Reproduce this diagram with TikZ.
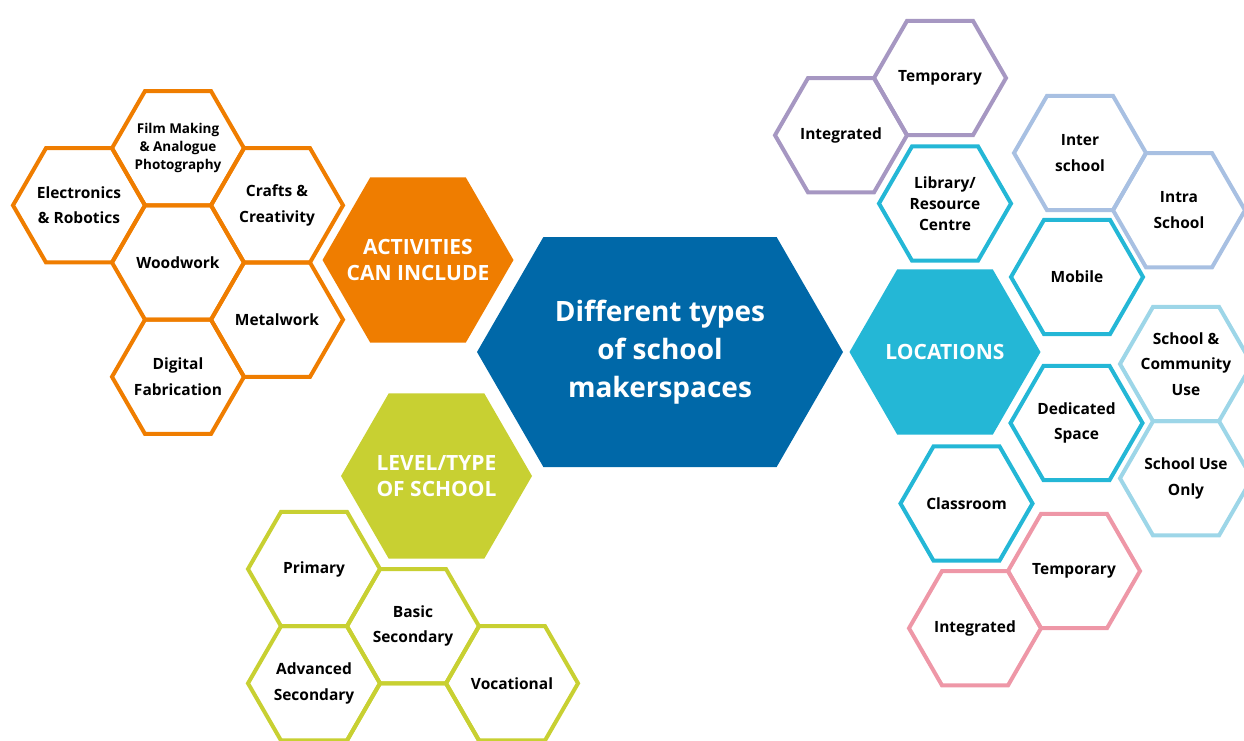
\documentclass[tikz,border=0pt]{standalone}
\usepackage{fontspec}
\setmainfont{Open Sans}
\usetikzlibrary{shapes.geometric,shapes.symbols}
\definecolor{actorange}{HTML}{EF7D00}
\definecolor{mainblue}{HTML}{0068A8}
\definecolor{loccyan}{HTML}{24B7D6}
\definecolor{levgreen}{HTML}{C8D032}
\definecolor{lilac}{HTML}{A697C2}
\definecolor{paleblue}{HTML}{A8C0E2}
\definecolor{skyblue}{HTML}{9DD6E8}
\definecolor{rosepink}{HTML}{EE97A7}
\tikzstyle{hex}=[regular polygon,regular polygon sides=6,minimum size=132pt,inner sep=-16pt,line width=4pt,align=center,font=\bfseries\fontsize{15.5}{25.5}\selectfont]
\tikzstyle{bighex}=[regular polygon,regular polygon sides=6,minimum size=191pt,inner sep=-16pt,text=white,align=center,font=\bfseries\fontsize{21}{26}\selectfont]

\begin{document}
\begin{tikzpicture}[x=1pt,y=-1pt]
\useasboundingbox (0,0) rectangle (1244,740);
\clip (0,0) rectangle (1244,740);

% centre
\node[signal,signal to=west and east,signal pointer angle=120,fill=mainblue,minimum width=366pt,minimum height=230pt,inner sep=0pt,text=white,align=center,font=\bfseries\fontsize{28}{38}\selectfont] (centre) at (660,352) {Different types\\of school\\makerspaces};

% activities
\node[bighex,fill=actorange] (activities) at (418,260) {ACTIVITIES\\CAN INCLUDE};
\node[hex,draw=actorange] (electronics) at (79,205.3) {Electronics\\\& Robotics};
\node[hex,draw=actorange,font=\bfseries\fontsize{13.5}{18}\selectfont] (film) at (178,148.2) {Film Making\\\& Analogue\\Photography};
\node[hex,draw=actorange] (crafts) at (277,205.3) {Crafts \&\\Creativity};
\node[hex,draw=actorange] (woodwork) at (178,262.5) {Woodwork};
\node[hex,draw=actorange] (metalwork) at (277,319.7) {Metalwork};
\node[hex,draw=actorange] (digital) at (178,376.8) {Digital\\Fabrication};

% level / type of school
\node[bighex,fill=levgreen] (level) at (436.5,476) {LEVEL/TYPE\\OF SCHOOL};
\node[hex,draw=levgreen] (primary) at (314,569) {Primary};
\node[hex,draw=levgreen] (basic) at (413,626.2) {Basic\\Secondary};
\node[hex,draw=levgreen] (advanced) at (314,683.3) {Advanced\\Secondary};
\node[hex,draw=levgreen] (vocational) at (512,683.3) {Vocational};
\node[hex,draw=levgreen] (blank) at (413,740.5) {};

% locations
\node[bighex,fill=loccyan] (locations) at (945,352) {LOCATIONS};
\node[hex,draw=lilac] (temptop) at (940,78) {Temporary};
\node[hex,draw=lilac] (inttop) at (841,135.2) {Integrated};
\node[hex,draw=loccyan,font=\bfseries\fontsize{15.5}{21}\selectfont] (library) at (945,203.5) {Library/\\Resource\\Centre};
\node[hex,draw=paleblue] (inter) at (1080,153) {Inter\\school};
\node[hex,draw=paleblue] (intra) at (1179,210.2) {Intra\\School};
\node[hex,draw=loccyan] (mobile) at (1077,277) {Mobile};
\node[hex,draw=skyblue] (community) at (1186,364) {School \&\\Community\\Use};
\node[hex,draw=loccyan] (dedicated) at (1076.5,423) {Dedicated\\Space};
\node[hex,draw=skyblue] (useonly) at (1186,478.3) {School Use\\Only};
\node[hex,draw=loccyan] (classroom) at (966.5,503.5) {Classroom};
\node[hex,draw=rosepink] (tempbot) at (1074,571) {Temporary};
\node[hex,draw=rosepink] (intbot) at (975,628.2) {Integrated};
\end{tikzpicture}
\end{document}
